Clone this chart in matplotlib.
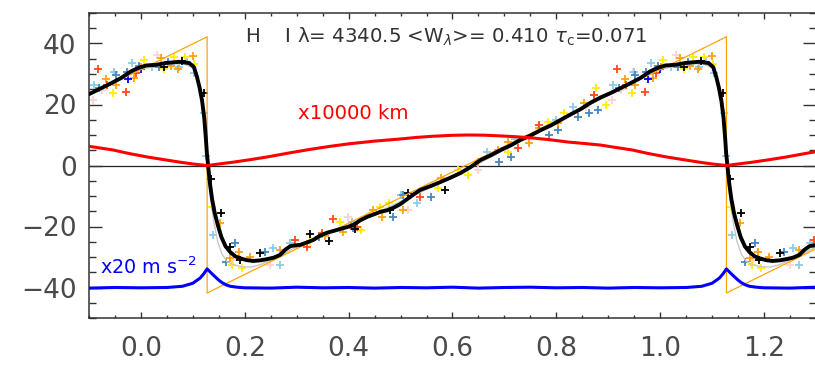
import numpy as np
import matplotlib
matplotlib.use("Agg")
import matplotlib.pyplot as plt
from matplotlib.ticker import MultipleLocator

# one pulsation cycle (phase 0.1275 .. 1.1275), repeated at -1, 0, +1 like the original
vel_ph = [0.130, 0.133, 0.137, 0.142, 0.148, 0.155, 0.163, 0.172, 0.182, 0.191, 0.203, 0.216,
          0.230, 0.243, 0.256, 0.268, 0.278, 0.288, 0.298, 0.307, 0.320, 0.332, 0.345, 0.359,
          0.372, 0.384, 0.397, 0.409, 0.422, 0.436, 0.449, 0.461, 0.474, 0.486, 0.500, 0.513,
          0.525, 0.538, 0.557, 0.577, 0.596, 0.615, 0.635, 0.654, 0.673, 0.693, 0.712, 0.731,
          0.750, 0.770, 0.789, 0.808, 0.828, 0.847, 0.866, 0.885, 0.905, 0.924, 0.943, 0.962,
          0.980, 0.995, 1.010, 1.029, 1.048, 1.074, 1.093, 1.102, 1.108, 1.113, 1.118, 1.122,
          1.125, 1.127]
vel = [-1.0, -6.0, -11.0, -15.5, -19.5, -23.5, -26.5, -28.4, -29.8, -30.4, -31.0, -31.3,
       -31.1, -30.7, -30.2, -29.3, -27.6, -26.4, -26.2, -26.0, -25.2, -24.4, -23.0, -22.0,
       -21.4, -20.8, -20.2, -19.5, -18.0, -16.8, -16.0, -15.2, -14.7, -13.9, -12.6, -11.0,
       -9.5, -8.0, -6.8, -5.4, -4.0, -2.5, -0.5, 1.8, 3.3, 5.1, 6.6, 8.4,
       9.8, 11.6, 13.1, 14.9, 16.8, 18.5, 20.6, 22.3, 23.8, 25.4, 27.0, 28.7,
       30.8, 32.0, 32.8, 33.0, 33.6, 34.0, 33.6, 32.3, 29.0, 25.5, 21.0, 15.5,
       9.0, 4.0]

model_ph = [0.130, 0.135, 0.141, 0.148, 0.156, 0.166, 0.178, 0.195, 0.212, 0.230, 0.250, 0.270,
            0.290, 0.320, 0.360, 0.410, 0.460, 0.510, 0.560, 0.610, 0.660, 0.710, 0.760, 0.810,
            0.860, 0.910, 0.960, 1.000, 1.040, 1.080, 1.100, 1.110, 1.117, 1.122, 1.126]
model = [-3.0, -12.0, -19.0, -25.0, -29.0, -31.5, -32.6, -33.2, -33.3, -32.5, -31.0, -29.5,
         -27.5, -25.5, -22.5, -19.0, -15.0, -11.0, -7.0, -3.0, 1.5, 6.0, 10.5, 15.0,
         19.5, 24.0, 28.5, 31.5, 33.0, 33.5, 32.0, 28.0, 21.0, 13.0, 5.0]

saw_ph = [0.1275, 1.1275]
saw = [-41.8, 42.2]

rad_ph = [0.1275, 0.150, 0.178, 0.210, 0.243, 0.285, 0.326, 0.365, 0.400, 0.450, 0.500,
          0.530, 0.563, 0.600, 0.629, 0.660, 0.693, 0.725, 0.756, 0.790, 0.822, 0.855, 0.885,
          0.915, 0.946, 0.975, 1.012, 1.045, 1.075, 1.100]
rad = [0.0, 0.5, 1.1, 1.9, 2.8, 4.1, 5.3, 6.3, 7.1, 8.0, 8.7,
       9.2, 9.6, 9.9, 10.0, 9.95, 9.7, 9.4, 9.0, 8.4, 7.7, 7.2, 6.7,
       5.9, 5.1, 4.0, 2.8, 1.9, 1.1, 0.5]

acc_ph = [0.1275, 0.135, 0.143, 0.150, 0.157, 0.165, 0.172, 0.185, 0.20, 0.25, 0.30, 0.35,
          0.40, 0.45, 0.50, 0.55, 0.60, 0.65, 0.70, 0.75, 0.80, 0.85, 0.90, 0.95,
          1.00, 1.05, 1.08, 1.10, 1.114, 1.121]
acc = [-33.9, -35.2, -36.5, -37.6, -38.5, -39.2, -39.6, -39.9, -40.1, -40.2, -39.9, -40.1,
       -40.0, -40.2, -40.0, -40.1, -39.9, -40.2, -40.0, -39.9, -40.1, -40.0, -40.2, -40.0,
       -40.1, -40.0, -39.6, -38.6, -36.9, -35.5]

# individual line measurements, one list per colour: (phase, velocity)
pts_black = [(0.135, -4.4), (0.155, -15.6), (0.172, -26.7), (0.191, -31.0), (0.230, -28.7),
             (0.326, -22.5), (0.363, -24.8), (0.413, -20.8), (0.480, -14.6), (0.515, -9.0),
             (0.586, -8.0), (1.045, 32.3), (1.079, 34.3), (1.121, 23.8)]
pts_yellow = [(0.137, -13.6), (0.176, -32.6), (0.195, -33.6), (0.326, -24.8), (0.384, -18.5),
              (0.423, -21.1), (0.461, -13.6), (0.477, -12.3), (0.573, -7.4), (0.610, -1.5),
              (0.629, -3.1), (0.706, 4.4), (0.783, 14.3), (0.814, 17.2), (0.876, 25.4),
              (0.895, 19.8), (0.946, 23.8), (1.006, 34.6), (1.045, 31.8), (1.064, 35.6),
              (1.084, 35.6), (1.102, 33.3)]
pts_orange = [(0.153, -18.9), (0.172, -30.3), (0.189, -28.4), (0.210, -30.0), (0.268, -27.7),
              (0.355, -23.1), (0.390, -21.8), (0.446, -14.6), (0.465, -16.9), (0.504, -14.6),
              (0.577, -4.1), (0.650, 1.1), (0.687, 5.1), (0.706, 7.7), (0.747, 7.4),
              (0.766, 12.3), (0.804, 13.9), (0.853, 20.5), (0.872, 23.1), (0.933, 28.3),
              (0.952, 26.4), (0.987, 28.7), (1.001, 32.3), (1.039, 35.2), (1.058, 32.6),
              (1.072, 31.5), (1.100, 35.8)]
pts_tomato = [(0.297, -24.4), (0.320, -26.7), (0.349, -22.1), (0.370, -17.5), (0.405, -19.8),
              (0.417, -20.3), (0.538, -10.3), (0.727, 5.7), (0.766, 13.3), (0.872, 23.1),
              (0.917, 31.8), (0.935, 26.4), (0.971, 24.2), (0.991, 30.3)]
pts_steel = [(0.164, -31.6), (0.182, -25.4), (0.239, -28.4), (0.342, -23.4), (0.409, -20.5),
             (0.486, -16.9), (0.504, -9.7), (0.558, -10.3), (0.689, 1.1), (0.712, 2.8),
             (0.785, 10.0), (0.804, 11.6), (0.841, 15.9), (0.862, 17.2), (0.881, 18.2),
             (0.920, 25.4), (0.952, 29.7), (0.973, 30.6), (0.996, 32.6), (1.034, 32.3),
             (1.053, 33.9)]
pts_sky = [(0.139, -22.8), (0.255, -27.0), (0.268, -32.6), (0.288, -25.4), (0.407, -18.5),
           (0.500, -9.7), (0.532, -12.3), (0.667, 4.4), (0.721, 8.7), (0.799, 14.9),
           (0.833, 19.2), (0.910, 26.4), (0.949, 30.6), (0.983, 33.6), (1.021, 32.3),
           (1.074, 32.3), (1.088, 33.9), (1.103, 30.3), (1.122, 17.2), (1.126, 3.0)]
pts_pink = [(0.178, -31.0), (0.249, -32.6), (0.399, -16.9), (0.515, -14.6), (0.650, -1.5),
            (0.857, 19.2), (0.907, 21.5), (0.925, 24.8), (0.948, 30.6), (1.031, 36.2)]
pts_blue = [(0.976, 28.5), (1.000, 31.8)]

title_txt = r"H    I λ= 4340.5 <W$_{\lambda}$>= 0.410 $\tau_{\rm c}$=0.071"
rad_label = "x10000 km"
acc_label = r"x20 m s$^{-2}$"


def repeat(ph, val):
    ph = np.asarray(ph, float)
    val = np.asarray(val, float)
    x = np.concatenate([ph + k for k in (-1, 0, 1)])
    y = np.concatenate([val for k in (-1, 0, 1)])
    return x, y


fig = plt.figure(figsize=(8.15, 3.70), dpi=100)
ax = fig.add_axes([89 / 815, 52 / 370, 727 / 815, 305 / 370])

ax.axhline(0, color="#222222", lw=0.9, zorder=1)

for pts, col in [(pts_pink, "#ffd2d2"), (pts_sky, "#8ecbe6"), (pts_steel, "#4a86bd"),
                 (pts_yellow, "#ffee00"), (pts_orange, "#ffa010"), (pts_tomato, "#ff4a1a"),
                 (pts_blue, "#0000ff"), (pts_black, "#000000")]:
    p = np.array(pts)
    x, y = repeat(p[:, 0], p[:, 1])
    ax.plot(x, y, "+", color=col, ms=5.5, mew=1.3, zorder=2)

x, y = repeat(model_ph, model)
ax.plot(x, y, color="#c8c8c8", lw=1.0, zorder=3)
x, y = repeat(saw_ph, saw)
ax.plot(x, y, color="#ffa500", lw=0.9, zorder=4)
x, y = repeat(vel_ph, vel)
ax.plot(x, y, color="black", lw=2.8, zorder=5)
x, y = repeat(rad_ph, rad)
ax.plot(x, y, color="#ff0000", lw=2.2, zorder=6)
x, y = repeat(acc_ph, acc)
ax.plot(x, y, color="#0000ff", lw=2.2, zorder=6)

ax.set_xlim(-0.1, 1.3)
ax.set_ylim(-50, 50)
ax.xaxis.set_minor_locator(MultipleLocator(0.05))
ax.yaxis.set_minor_locator(MultipleLocator(5))
ax.set_xticks([0.0, 0.2, 0.4, 0.6, 0.8, 1.0, 1.2])
ax.set_xticklabels(["0.0", "0.2", "0.4", "0.6", "0.8", "1.0", "1.2"])
ax.set_yticks([-40, -20, 0, 20, 40])
ax.set_yticklabels(["\u221240", "\u221220", "0", "20", "40"])

gray = "#4a4a4a"
for s in ax.spines.values():
    s.set_color("#333333")
    s.set_linewidth(1.1)
ax.tick_params(axis="both", which="both", direction="in", top=True, right=True,
               color="#333333", labelcolor=gray, labelsize=19)
ax.tick_params(axis="x", which="major", length=4.5, width=1.0, pad=13)
ax.tick_params(axis="x", which="minor", length=2.3, width=1.0)
ax.tick_params(axis="y", which="major", length=9.5, width=1.0, pad=9)
ax.tick_params(axis="y", which="minor", length=4.7, width=1.0)

ax.text(0.215, 0.921, title_txt, transform=ax.transAxes, ha="left", va="center",
        fontsize=14.2, color="#333333")
ax.text(0.288, 0.672, rad_label, transform=ax.transAxes, ha="left", va="center",
        fontsize=14.2, color="#ff0000")
ax.text(0.015, 0.167, acc_label, transform=ax.transAxes, ha="left", va="center",
        fontsize=13.8, color="#0000ff")

fig.savefig("out.png", dpi=100)
